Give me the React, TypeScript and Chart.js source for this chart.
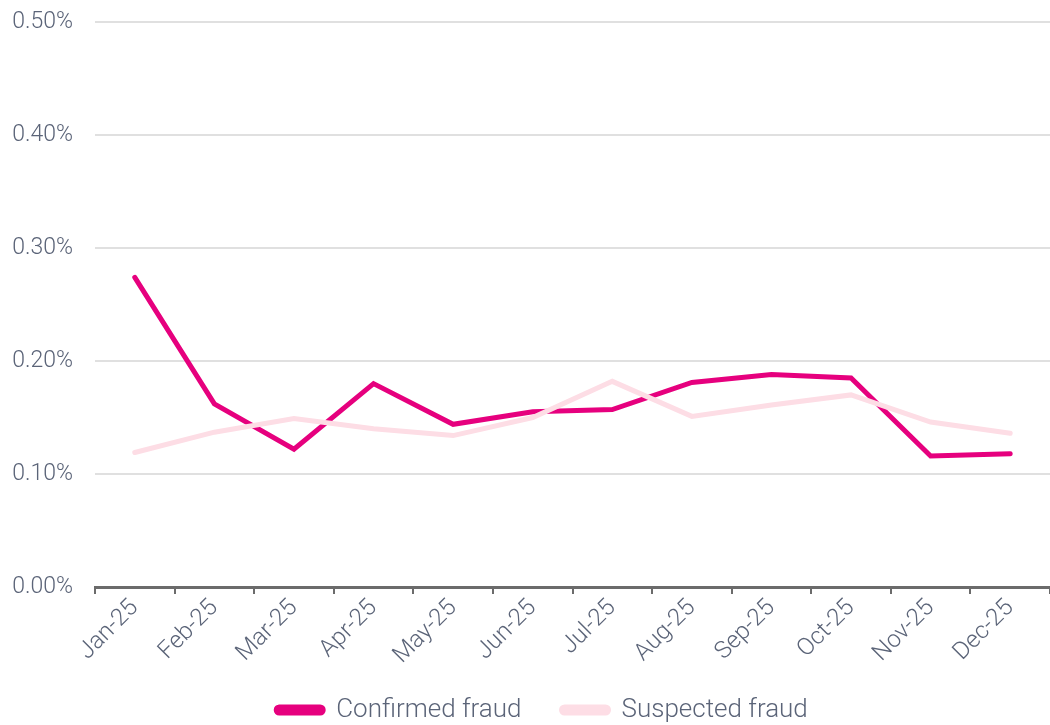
import React, { useEffect, useRef } from "react";
import { Chart, registerables } from "chart.js";

Chart.register(...registerables);

const months = ["Jan-25", "Feb-25", "Mar-25", "Apr-25", "May-25", "Jun-25", "Jul-25", "Aug-25", "Sep-25", "Oct-25", "Nov-25", "Dec-25"];
const confirmedFraud = [0.274, 0.162, 0.122, 0.180, 0.144, 0.155, 0.157, 0.181, 0.188, 0.185, 0.116, 0.118];
const suspectedFraud = [0.119, 0.137, 0.149, 0.140, 0.134, 0.150, 0.182, 0.151, 0.161, 0.170, 0.146, 0.136];
const yTicks = [0, 0.1, 0.2, 0.3, 0.4, 0.5];

const FONT = "Roboto, 'Noto Sans', sans-serif";
const TEXT = "#5b6478";

const legendPlacer = {
  id: "legendPlacer",
  afterLayout(chart: any) {
    const lg = chart.legend;
    if (!lg) return;
    lg.left = 34;
    lg.right = 1050;
    lg.width = 1016;
    lg.top = 657;
    lg.bottom = 725;
    lg.height = 68;
  },
};

export default function App() {
  const ref = useRef<HTMLCanvasElement>(null);
  useEffect(() => {
    document.body.style.margin = "0";
    const chart = new Chart(ref.current!, {
      type: "line",
      plugins: [legendPlacer],
      data: {
        labels: months,
        datasets: [
          {
            label: "Confirmed fraud",
            data: confirmedFraud,
            borderColor: "#e6007e",
            backgroundColor: "#e6007e",
            borderWidth: 5,
            pointRadius: 0,
            borderCapStyle: "round",
            borderJoinStyle: "miter",
            tension: 0,
            order: 1,
          },
          {
            label: "Suspected fraud",
            data: suspectedFraud,
            borderColor: "#fddde5",
            backgroundColor: "#fddde5",
            borderWidth: 5,
            pointRadius: 0,
            borderCapStyle: "round",
            borderJoinStyle: "miter",
            tension: 0,
            order: 0,
          },
        ],
      },
      options: {
        animation: false,
        responsive: false,
        layout: { padding: 0 },
        plugins: {
          tooltip: { enabled: false },
          legend: {
            position: "bottom",
            maxHeight: 4,
            labels: {
              sort: (a: any, b: any) => a.datasetIndex - b.datasetIndex,
              boxWidth: 47,
              boxHeight: 6,
              useBorderRadius: true,
              borderRadius: 3,
              color: TEXT,
              font: { family: FONT, size: 26, weight: "300" },
              padding: 40,
            },
          },
        },
        scales: {
          x: {
            offset: true,
            grid: { display: true, drawOnChartArea: false, drawTicks: true, tickLength: 7, color: "#6b6b6b", lineWidth: 2, offset: true },
            border: { display: true, color: "#6b6b6b", width: 3 },
            ticks: {
              maxRotation: 45,
              minRotation: 45,
              color: TEXT,
              font: { family: FONT, size: 24, weight: "300" },
              padding: 0,
            },
            afterFit: (s: any) => {
              s.paddingLeft = 0;
              s.paddingRight = 0;
              s.height = 134;
            },
          },
          y: {
            min: 0,
            max: 0.5,
            afterBuildTicks: (axis: any) => {
              axis.ticks = yTicks.map((v) => ({ value: v }));
            },
            grid: { color: "#e0e0e0", lineWidth: 2, drawTicks: false },
            border: { display: false },
            ticks: {
              color: TEXT,
              padding: 22,
              font: { family: FONT, size: 23, weight: "300" },
              callback: (v: any) => Number(v).toFixed(2) + "%",
            },
            afterFit: (s: any) => {
              s.width = 95;
              s.paddingTop = 22;
              s.paddingBottom = 0;
            },
          },
        },
      },
    });
    return () => chart.destroy();
  }, []);
  return (
    <div style={{ position: "absolute", left: 0, top: 0, width: 1050, height: 725 }}>
      <canvas ref={ref} width={1050} height={725} />
    </div>
  );
}
